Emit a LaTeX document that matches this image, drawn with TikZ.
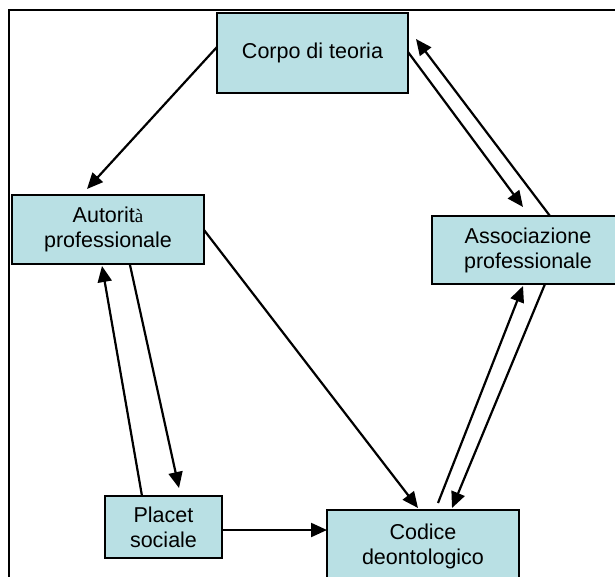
\documentclass[tikz,border=0pt]{standalone}
\usepackage{fontspec}
\setmainfont{Liberation Sans}
\newfontfamily\accentfont{Liberation Serif}
\usetikzlibrary{arrows.meta}
\definecolor{boxfill}{RGB}{185,224,228}
\tikzset{
  concept/.style={draw=black, line width=2pt, fill=boxfill, align=center,
    inner sep=0pt, font=\fontsize{21.5}{25}\selectfont},
  link/.style={line width=2.2pt, -{Triangle[length=16pt,width=14pt]}},
  frame/.style={line width=2pt}
}
\begin{document}
\begin{tikzpicture}[x=1pt,y=-1pt]
\useasboundingbox (0,0) rectangle (615,576);
\clip (0,0) rectangle (615,576);
\fill[white] (0,0) rectangle (615,576);
% outer frame (only top and left edges fall inside the view)
\draw[frame] (8.5,600) -- (8.5,10) -- (630,10);

% concepts
\node[concept, minimum width=191pt, minimum height=80pt] (corpo) at (312.5,53) {Corpo di teoria};
\node[concept, minimum width=192pt, minimum height=69pt] (auto) at (108,229.5) {Autorit{\accentfont\fontsize{19}{25}\selectfont à}\\professionale};
\node[concept, minimum width=192pt, minimum height=68pt] (assoc) at (528,250) {Associazione\\professionale};
\node[concept, minimum width=117pt, minimum height=62pt] (placet) at (163.5,527) {Placet\\sociale};
\node[concept, minimum width=192pt, minimum height=72pt] (codice) at (423,546) {Codice\\deontologico};

% connector end points on the box edges
\coordinate (corpoW)  at (217,47);
\coordinate (autoN)   at (87,189);
\coordinate (corpoE)  at (408,52);
\coordinate (assocN1) at (523,207);
\coordinate (assocN2) at (550,216);
\coordinate (corpoNE) at (416,39);
\coordinate (codiceN1) at (438,503);
\coordinate (assocS1) at (523,286);
\coordinate (assocS2) at (545,284);
\coordinate (codiceN2) at (452,508);
\coordinate (autoE)   at (204,230);
\coordinate (codiceN0) at (418,508);
\coordinate (placetN) at (142,496);
\coordinate (autoS1)  at (102,266);
\coordinate (autoS2)  at (130,265);
\coordinate (placetN2) at (179,488);
\coordinate (placetE) at (222,530);
\coordinate (codiceW) at (327,530);

% connectors
\draw[link] (corpoW) -- (autoN);
\draw[link] (corpoE) -- (assocN1);
\draw[link] (assocN2) -- (corpoNE);
\draw[link] (codiceN1) -- (assocS1);
\draw[link] (assocS2) -- (codiceN2);
\draw[link] (autoE) -- (codiceN0);
\draw[link] (placetN) -- (autoS1);
\draw[link] (autoS2) -- (placetN2);
\draw[link] (placetE) -- (codiceW);
\end{tikzpicture}
\end{document}
